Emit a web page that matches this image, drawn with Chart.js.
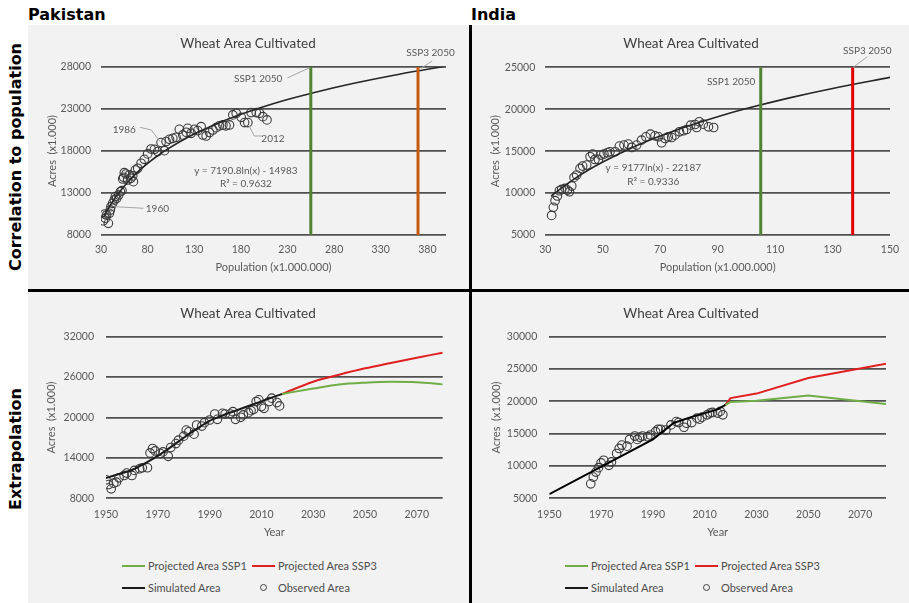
<!DOCTYPE html>
<html>
<head>
<meta charset="utf-8">
<script src="https://cdn.jsdelivr.net/npm/chart.js@4"></script>
<style>
  body { margin: 0; background: #fff; width: 909px; height: 603px; position: relative; overflow: hidden; font-family: Lato, sans-serif; }
  .panel { position: absolute; background: #f2f2f2; }
  .sep { position: absolute; background: #000; }
  .head { position: absolute; font: bold 16px "DejaVu Sans", sans-serif; line-height: 20px; color: #000; }
  .side { position: absolute; font: bold 16px "DejaVu Sans", sans-serif; white-space: nowrap; transform: translate(-50%, -50%) rotate(-90deg); }
  canvas { position: absolute; }
  .leg { position: absolute; font: 11px Lato, sans-serif; color: #4d4d4d; line-height: 14px; white-space: nowrap; }
  .sym { position: absolute; }
</style>
</head>
<body>
<div class="panel" style="left:28px;top:25px;width:441px;height:264px"></div>
<div class="panel" style="left:472px;top:25px;width:437px;height:264px"></div>
<div class="panel" style="left:28px;top:292px;width:441px;height:311px"></div>
<div class="panel" style="left:472px;top:292px;width:437px;height:311px"></div>
<div class="sep" style="left:28px;top:289px;width:881px;height:3px"></div>
<div class="sep" style="left:469px;top:25px;width:3px;height:578px"></div>
<div class="head" style="left:28px;top:5px">Pakistan</div>
<div class="head" style="left:471px;top:5px">India</div>
<div class="side" style="left:15px;top:157px">Correlation to population</div>
<div class="side" style="left:15px;top:449px">Extrapolation</div>

<canvas id="pkPopChart" width="440" height="264" style="left:28px;top:25px"></canvas>
<canvas id="inPopChart" width="436" height="264" style="left:473px;top:25px"></canvas>
<canvas id="pkYearChart" width="440" height="257" style="left:28px;top:293px"></canvas>
<canvas id="inYearChart" width="436" height="257" style="left:473px;top:293px"></canvas>

<script>
// ---- Pakistan: area vs population (millions) ----
const pkPop = [32.5, 34, 34.7, 36, 37.9, 39, 40, 40.7, 42.5, 44.3, 45.4, 46.8, 49, 50.8, 52.5, 53.3, 54.3, 55, 56.8, 58.6,
  60.4, 62, 64, 64.7, 66.9, 69.4, 73, 76.5, 80, 83.7, 87.3, 90.8, 94.4, 98, 99.8, 103.4, 107, 110.5, 114, 117.7,
  121.3, 123, 126.7, 130.2, 133.8, 137.4, 139.2, 142.8, 146.4, 150, 153.5, 157, 160.7, 164, 167.8, 171.4, 175, 180.4,
  184, 187.5, 191, 196.5, 200, 203.6, 208];
const pkArea = [9700, 10500, 10000, 10380, 9390, 10580, 10980, 11370, 11770, 12170, 12570, 12370, 12760, 13160, 13280, 14670, 14870, 15420, 15260, 14550,
  15150, 14750, 15030, 14350, 15740, 15940, 16540, 17010, 17650, 18240, 18200, 17930, 19000, 18040, 19120, 19390, 19510, 19630, 20580, 19910,
  20230, 20700, 20110, 20580, 20430, 20900, 19910, 19790, 20190, 20500, 20780, 21000, 21100, 21000, 21100, 22300, 22490, 22010,
  21380, 21380, 22570, 22570, 22490, 22090, 21700];
const pkFitPop = [33, 36, 40, 45, 50, 60, 70, 80, 90, 100, 115, 130, 150, 175, 200, 230, 260, 300, 350, 400];
const pkFitArea = [10160, 10786, 11544, 12391, 13148, 14459, 15568, 16528, 17375, 18132, 19137, 20019, 21048, 22156, 23116, 24122, 25003, 26032, 27140, 28101];
const pkSspPop = [255, 370];  // SSP1 2050, SSP3 2050

// ---- India: area vs population (millions) ----
const inPop = [32.2, 32.8, 33.4, 34.2, 34.9, 35.7, 36.9, 37.7, 38.4, 39.2, 40, 40.9, 42.1, 43, 44.4, 45.6, 46.5, 47.3, 48.5, 49.3,
  50.4, 51.6, 52.5, 54.3, 55.8, 57.4, 58.9, 60.1, 61.8, 63.5, 65, 66.6, 68.2, 69.4, 70.5, 71.7, 72.8, 74, 75.1, 76.7,
  78.1, 79.2, 80.6, 82.1, 82.7, 83.6, 85, 86.8, 88.6];
const inArea = [7340, 8300, 9090, 9650, 10280, 10440, 10560, 10360, 10160, 10840, 11870, 12150, 12940, 13220, 13340, 14330, 14650, 14010, 14010, 14530,
  14650, 14810, 14930, 14930, 15600, 15720, 15840, 15440, 15720, 16310, 16710, 17030, 16830, 16710, 16000, 16510, 16710, 16630, 16910, 17310,
  17430, 17580, 18100, 18180, 17820, 18500, 18220, 17900, 17820];
const inFitPop = [32, 35, 40, 45, 50, 60, 70, 80, 90, 100, 115, 130, 150];
const inFitArea = [9618, 10440, 11666, 12747, 13713, 15387, 16801, 18027, 19108, 20075, 21357, 22482, 23795];
const inSspPop = [105, 137];

// ---- Pakistan: area vs year ----
const pkObsYear = [1950, 1951, 1952, 1953, 1954, 1955, 1957, 1958, 1960, 1961, 1963, 1964, 1966, 1967, 1968, 1969, 1971, 1972, 1974, 1975,
  1977, 1978, 1980, 1981, 1982, 1984, 1985, 1987, 1988, 1990, 1992, 1993, 1995, 1996, 1998, 1999, 2000, 2002, 2003, 2005,
  2006, 2007, 2008, 2009, 2010, 2011, 2013, 2014, 2016, 2017];
const pkObsArea = [10750, 10050, 9400, 10250, 10400, 11040, 11390, 11740, 11390, 12140, 12390, 12540, 12540, 14740, 15390, 15040, 14640, 14890, 14240, 15540,
  16130, 16630, 17230, 18130, 17880, 17530, 18880, 18730, 19230, 19630, 20520, 19730, 20620, 20520, 20520, 20870, 19730, 20030, 20380, 20720,
  21020, 21220, 22370, 22620, 21620, 21370, 22370, 22870, 22220, 21720];
const pkSimYear = [1950, 1955, 1960, 1965, 1970, 1975, 1980, 1985, 1990, 1995, 2000, 2005, 2010, 2015, 2018];
const pkSimArea = [11000, 11600, 12200, 13200, 14300, 15600, 17000, 18300, 19500, 20300, 21000, 21700, 22400, 23100, 23500];
const pkProjYear = [2018, 2030, 2040, 2050, 2060, 2070, 2080];
const pkSsp1 = [23500, 24300, 24900, 25170, 25300, 25250, 24920];
const pkSsp3 = [23500, 25320, 26350, 27300, 28100, 28880, 29620];

// ---- India: area vs year ----
const inObsYear = [1966, 1967, 1968, 1969, 1970, 1971, 1973, 1974, 1976, 1977, 1978, 1980, 1981, 1983, 1984, 1985, 1986, 1988, 1989, 1991,
  1992, 1993, 1995, 1997, 1999, 2000, 2002, 2003, 2005, 2007, 2008, 2009, 2011, 2012, 2013, 2015, 2016, 2017];
const inObsArea = [7240, 8280, 9060, 9740, 10470, 10880, 10100, 10620, 11930, 12710, 13230, 13070, 14110, 14630, 14110, 14430, 14630, 14530, 14790, 15310,
  15680, 15680, 15570, 16350, 16870, 16720, 15990, 16610, 16720, 17400, 17240, 17550, 17920, 18180, 18280, 18180, 18440, 17920];
const inSimYear = [1950, 1990, 1998, 2005, 2015, 2018];
const inSimArea = [5650, 14100, 16650, 17600, 18750, 19450];
const inSsp1Year = [2018, 2020, 2030, 2050, 2080];
const inSsp1 = [19450, 19900, 20100, 20900, 19600];
const inSsp3Year = [2018, 2020, 2030, 2050, 2080];
const inSsp3 = [19450, 20500, 21200, 23600, 25800];

// tick labels
const pkPopTicks = [30, 80, 130, 180, 230, 280, 330, 380];
const pkPopAreaTicks = [8000, 13000, 18000, 23000, 28000];
const inPopTicks = [30, 50, 70, 90, 110, 130, 150];
const inPopAreaTicks = [5000, 10000, 15000, 20000, 25000];
const yearTicks = [1950, 1970, 1990, 2010, 2030, 2050, 2070];
const pkYearAreaTicks = [8000, 14000, 20000, 26000, 32000];
const inYearAreaTicks = [5000, 10000, 15000, 20000, 25000, 30000];

const TXT = '#595959';
const zip = (xs, ys) => xs.map((x, i) => ({ x: x, y: ys[i] }));

// panel title, text labels and thin leader lines (labels in data coordinates)
const notesPlugin = {
  id: 'notes',
  afterDatasetsDraw(chart, args, opts) {
    const ctx = chart.ctx, xs = chart.scales.x, ys = chart.scales.y;
    ctx.save();
    ctx.fillStyle = '#404040';
    ctx.font = '13.5px Lato';
    ctx.textAlign = 'center';
    ctx.textBaseline = 'middle';
    ctx.fillText('Wheat Area Cultivated', chart.width / 2, opts.titleY);

    ctx.strokeStyle = '#a6a6a6';
    ctx.lineWidth = 1;
    (opts.leaders || []).forEach(pts => {
      ctx.beginPath();
      pts.forEach((p, i) => {
        const px = xs.getPixelForValue(p[0]), py = ys.getPixelForValue(p[1]);
        if (i) ctx.lineTo(px, py); else ctx.moveTo(px, py);
      });
      ctx.stroke();
    });
    ctx.fillStyle = TXT;
    ctx.font = '10px Lato';
    (opts.texts || []).forEach(t => ctx.fillText(t.text, xs.getPixelForValue(t.x), ys.getPixelForValue(t.y)));
    ctx.restore();
  }
};

function scalesFor(o) {
  return {
    x: {
      type: 'linear', min: o.xMin, max: o.xMax,
      afterBuildTicks: s => { s.ticks = o.xTicks.map(v => ({ value: v })); },
      afterFit: s => { s.height = o.xH; },
      grid: { display: false, drawTicks: false },
      border: { display: false },
      ticks: { color: TXT, font: { family: 'Lato', size: 10.5 }, padding: o.xPad, maxRotation: 0, autoSkip: false, callback: v => String(v) },
      title: { display: true, text: o.xTitle, color: TXT, font: { family: 'Lato', size: 11 }, padding: { top: 0, bottom: o.xTitlePad } }
    },
    y: {
      min: o.yTicks[0], max: o.yTicks[o.yTicks.length - 1],
      afterBuildTicks: s => { s.ticks = o.yTicks.map(v => ({ value: v })); },
      afterFit: s => { s.width = o.yW; },
      grid: { color: '#505050', lineWidth: 1.7, drawTicks: false },
      border: { display: false },
      ticks: { color: TXT, font: { family: 'Lato', size: 10.5 }, padding: o.yPad, callback: v => String(v) },
      title: { display: true, text: 'Acres  (x1.000)', color: TXT, font: { family: 'Lato', size: 11 }, padding: { top: o.yTitlePad, bottom: 0 } }
    }
  };
}

function makeChart(id, datasets, o, notes) {
  new Chart(document.getElementById(id), {
    type: 'scatter',
    data: { datasets: datasets },
    options: {
      responsive: false,
      animation: false,
      layout: { padding: { left: 0, right: o.padRight, top: o.padTop, bottom: 0 } },
      plugins: {
        legend: { display: false },
        tooltip: { enabled: false },
        title: { display: false },
        notes: notes
      },
      scales: scalesFor(o)
    },
    plugins: [notesPlugin]
  });
}

const observed = (xs, ys) => ({
  data: zip(xs, ys), pointRadius: 4.3, pointBorderWidth: 1.1, pointBorderColor: '#3a3a3a',
  pointBackgroundColor: 'rgba(0,0,0,0)', showLine: false, order: 3
});
const curve = (xs, ys, color, width, smooth, order) => ({
  data: zip(xs, ys), showLine: true, pointRadius: 0, borderColor: color, borderWidth: width,
  cubicInterpolationMode: smooth ? 'monotone' : 'default', tension: 0, order: order
});
const vline = (x, yr, color) => ({
  data: [{ x: x, y: yr[0] }, { x: x, y: yr[yr.length - 1] }], showLine: true, pointRadius: 0,
  borderColor: color, borderWidth: 3, order: 0
});

makeChart('pkPopChart', [
  observed(pkPop, pkArea),
  curve(pkFitPop, pkFitArea, '#262626', 1.6, true, 1),
  vline(pkSspPop[0], pkPopAreaTicks, '#548235'),
  vline(pkSspPop[1], pkPopAreaTicks, '#c55a11')
], {
  xMin: 30, xMax: 400, xTicks: pkPopTicks, yTicks: pkPopAreaTicks, xTitle: 'Population (x1.000.000)',
  xH: 54, yW: 73, padRight: 22, padTop: 42, xPad: 8.5, yPad: 10, xTitlePad: 15.4, yTitlePad: 17.4
}, {
  titleY: 19,
  texts: [
    { x: 198.6, y: 26570, text: 'SSP1 2050' },
    { x: 383.4, y: 29667, text: 'SSP3 2050' },
    { x: 55, y: 20583, text: '1986' },
    { x: 214.4, y: 19464, text: '2012' },
    { x: 90.5, y: 11095, text: '1960' },
    { x: 185.4, y: 15655, text: 'y = 7190.8ln(x) - 14983' },
    { x: 185.4, y: 14071, text: 'R² = 0.9632' }
  ],
  leaders: [
    [[229.8, 26690], [253.4, 27900]],
    [[385.2, 28714], [373.4, 27845]],
    [[71.9, 20821], [84, 20500], [93.4, 19107]],
    [[189, 20976], [194.3, 19786], [202.9, 19786]],
    [[75.4, 11179], [45, 11369]]
  ]
});

makeChart('inPopChart', [
  observed(inPop, inArea),
  curve(inFitPop, inFitArea, '#262626', 1.6, true, 1),
  vline(inSspPop[0], inPopAreaTicks, '#548235'),
  vline(inSspPop[1], inPopAreaTicks, '#e00000')
], {
  xMin: 30, xMax: 150, xTicks: inPopTicks, yTicks: inPopAreaTicks, xTitle: 'Population (x1.000.000)',
  xH: 54, yW: 72.3, padRight: 19, padTop: 42.3, xPad: 8.5, yPad: 10, xTitlePad: 15.4, yTitlePad: 15.4
}, {
  titleY: 19,
  texts: [
    { x: 94.7, y: 23283, text: 'SSP1 2050' },
    { x: 142.1, y: 26944, text: 'SSP3 2050' },
    { x: 67.6, y: 13026, text: 'y = 9177ln(x) - 22187' },
    { x: 67.6, y: 11357, text: 'R² = 0.9336' }
  ],
  leaders: [
    [[142.1, 26264], [137.2, 25000]]
  ]
});

makeChart('pkYearChart', [
  observed(pkObsYear, pkObsArea),
  curve(pkSimYear, pkSimArea, '#1a1a1a', 2, true, 1),
  curve(pkProjYear, pkSsp1, '#70ad47', 2, true, 2),
  curve(pkProjYear, pkSsp3, '#e02020', 2, true, 2)
], {
  xMin: 1950, xMax: 2080, xTicks: yearTicks, yTicks: pkYearAreaTicks, xTitle: 'Year',
  xH: 51.7, yW: 78, padRight: 25.3, padTop: 43.7, xPad: 10, yPad: 12, xTitlePad: 11.1, yTitlePad: 17.1
}, { titleY: 20.3 });

makeChart('inYearChart', [
  observed(inObsYear, inObsArea),
  curve(inSimYear, inSimArea, '#000000', 2, false, 1),
  curve(inSsp1Year, inSsp1, '#70ad47', 2, false, 2),
  curve(inSsp3Year, inSsp3, '#e02020', 2, false, 2)
], {
  xMin: 1950, xMax: 2080, xTicks: yearTicks, yTicks: inYearAreaTicks, xTitle: 'Year',
  xH: 51.7, yW: 76.3, padRight: 23, padTop: 43.7, xPad: 10, yPad: 12, xTitlePad: 11.1, yTitlePad: 16.4
}, { titleY: 20.3 });

// legends for the two extrapolation panels (2 x 2 grid)
const legendItems = [
  { text: 'Projected Area SSP1', kind: 'line', color: '#70ad47', col: 0, row: 0 },
  { text: 'Projected Area SSP3', kind: 'line', color: '#e02020', col: 1, row: 0 },
  { text: 'Simulated Area', kind: 'line', color: '#1a1a1a', col: 0, row: 1 },
  { text: 'Observed Area', kind: 'dot', color: '#404040', col: 1, row: 1 }
];
function addLegend(left) {
  const rows = [566, 587.7];
  legendItems.forEach(it => {
    const x = left + it.col * 130, cy = rows[it.row];
    const s = document.createElement('div');
    s.className = 'sym';
    if (it.kind === 'line') {
      s.style.cssText = `left:${x}px;top:${cy - 1}px;width:23px;height:2px;background:${it.color}`;
    } else {
      s.style.cssText = `left:${x + 8}px;top:${cy - 3.5}px;width:5px;height:5px;border:1px solid ${it.color};border-radius:50%`;
    }
    document.body.appendChild(s);
    const t = document.createElement('div');
    t.className = 'leg';
    t.textContent = it.text;
    t.style.left = (x + 26) + 'px';
    t.style.top = (cy - 7) + 'px';
    document.body.appendChild(t);
  });
}
addLegend(122);
addLegend(565);
</script>
</body>
</html>
